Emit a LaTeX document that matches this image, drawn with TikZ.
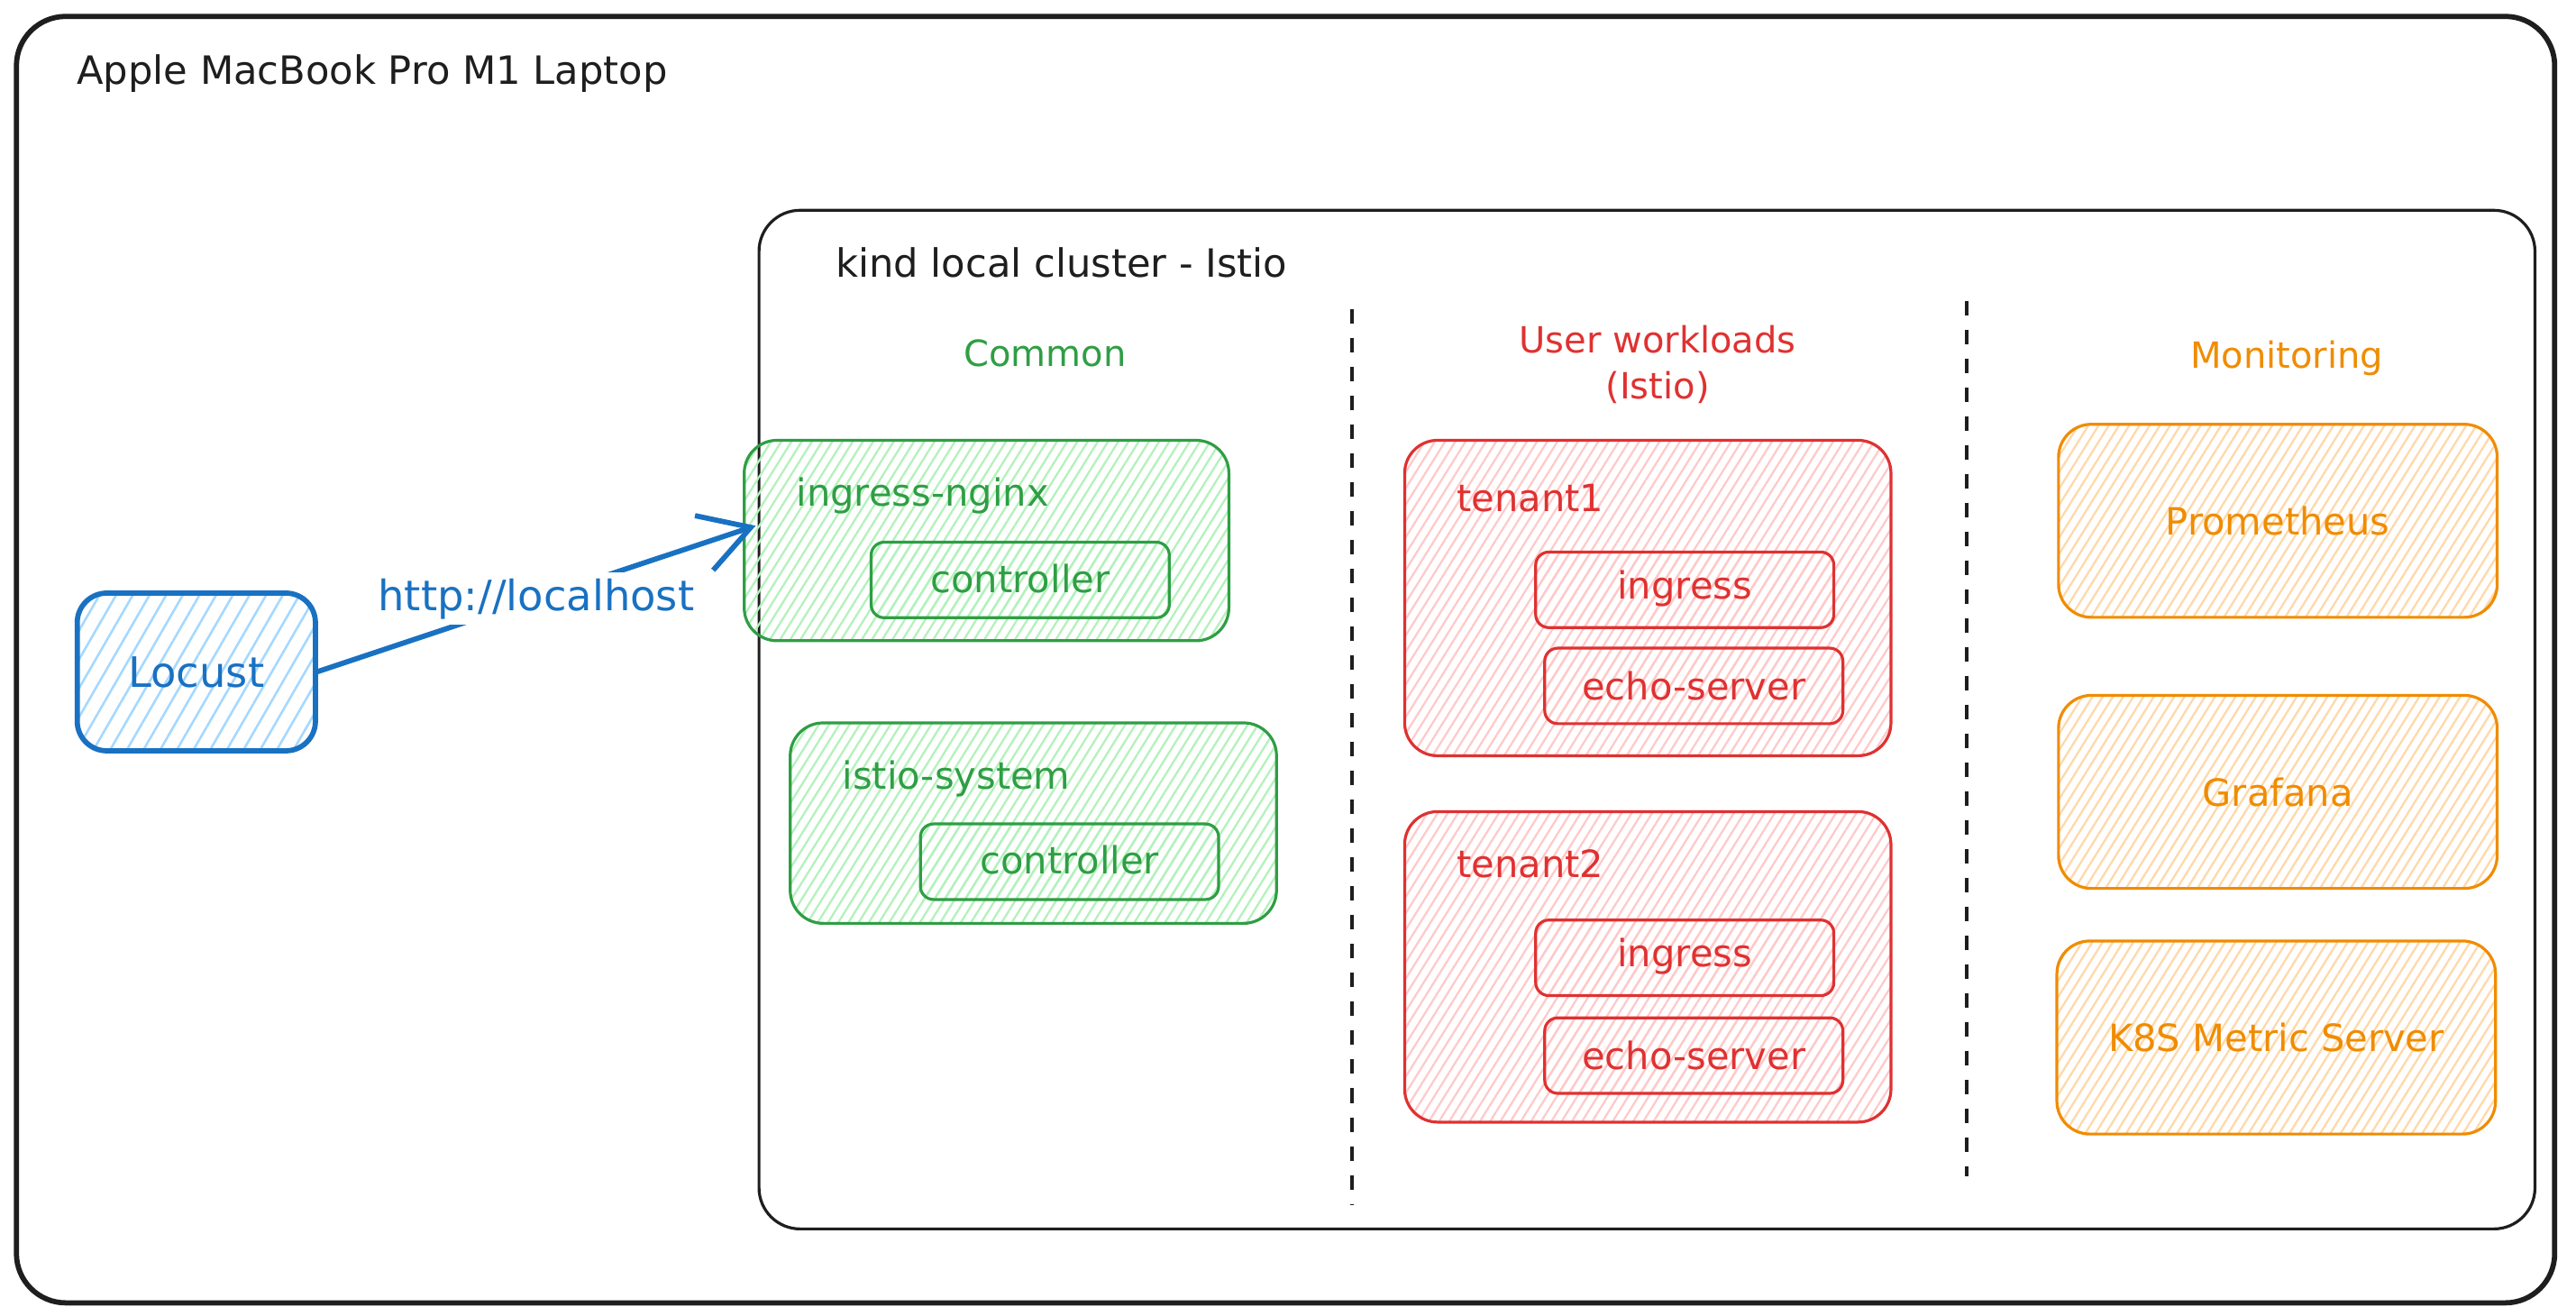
\documentclass[tikz,border=0pt]{standalone}
\usepackage{fontspec}
\setmainfont{DejaVu Sans}
\usetikzlibrary{patterns.meta,arrows.meta}

\definecolor{inkblack}{HTML}{1E1E1E}
\definecolor{greenline}{HTML}{2F9E44}
\definecolor{greenfill}{HTML}{B2F2BB}
\definecolor{redline}{HTML}{E03131}
\definecolor{redfill}{HTML}{FFC9C9}
\definecolor{orangeline}{HTML}{F08C00}
\definecolor{orangefill}{HTML}{FFD8A8}
\definecolor{blueline}{HTML}{1971C2}
\definecolor{bluefill}{HTML}{A5D8FF}

\begin{document}
\begin{tikzpicture}
[line width=1pt, draw=inkblack,
box/.style={rectangle, draw, inner sep=0pt, rounded corners=4mm},
inner/.style={rectangle, draw, inner sep=0pt, rounded corners=1.6mm, minimum width=3.63cm, minimum height=0.92cm},
hatch/.style={pattern={Lines[angle=58,distance=3pt,line width=0.7pt]}},
greenbox/.style={box, draw=greenline, hatch, pattern color=greenfill},
greeninner/.style={inner, draw=greenline, hatch, pattern color=greenfill},
redbox/.style={box, draw=redline, hatch, pattern color=redfill},
redinner/.style={inner, draw=redline, hatch, pattern color=redfill},
orangebox/.style={box, draw=orangeline, hatch, pattern color=orangefill, minimum width=5.34cm, minimum height=2.35cm},
bigtext/.style={text=inkblack, font=\fontsize{13.5}{16}\selectfont},
headtext/.style={font=\fontsize{12.5}{16}\selectfont, align=center},
boxtext/.style={font=\fontsize{13}{16}\selectfont}]

\fill[white] (0,0) rectangle (31.36,16.02);
\useasboundingbox (0,0) rectangle (31.36,16.02);

% outer frames
\node[box, line width=1.8pt, rounded corners=6mm, minimum width=30.9cm, minimum height=15.66cm] (laptop) at (15.65,7.99) {};
\node[box, rounded corners=5mm, minimum width=21.62cm, minimum height=12.4cm] (cluster) at (20.05,7.26) {};
\node[bigtext, anchor=west] (laptoptitle) at (0.8,15.12) {Apple MacBook Pro M1 Laptop};
\node[bigtext, anchor=west] (clustertitle) at (10.04,12.82) {kind local cluster - Istio};

% column separators
\coordinate (sepatop) at (16.46,12.26);
\coordinate (sepabot) at (16.46,1.36);
\coordinate (sepbtop) at (23.94,12.36);
\coordinate (sepbbot) at (23.94,1.70);
\draw[line width=1.2pt, dash pattern=on 5pt off 5pt] (sepatop) -- (sepabot);
\draw[line width=1.2pt, dash pattern=on 5pt off 5pt] (sepbtop) -- (sepbbot);

\node[headtext, text=greenline] (common) at (12.72,11.72) {Common};
\node[headtext, text=redline] (userwl) at (20.18,11.58) {User workloads\\(Istio)};
\node[headtext, text=orangeline] (monitoring) at (27.84,11.66) {Monitoring};

% common
\node[greenbox, minimum width=5.9cm, minimum height=2.44cm] (ingressnginx) at (12.01,9.44) {};
\node[greeninner] (nginxctrl) at (12.42,8.96) {};
\node[boxtext, text=greenline, anchor=west] (nginxlabel) at (9.56,9.98) {ingress-nginx};
\node[boxtext, text=greenline] (nginxctrltext) at (12.42,8.98) {controller};

\node[greenbox, minimum width=5.92cm, minimum height=2.44cm] (istiosys) at (12.58,6.00) {};
\node[greeninner] (istioctrl) at (13.02,5.53) {};
\node[boxtext, text=greenline, anchor=west] (istiolabel) at (10.12,6.54) {istio-system};
\node[boxtext, text=greenline] (istioctrltext) at (13.02,5.55) {controller};

% user workloads
\node[redbox, minimum width=5.92cm, minimum height=3.84cm] (tenantone) at (20.06,8.74) {};
\node[redinner] (ingressone) at (20.51,8.84) {};
\node[redinner] (echoone) at (20.62,7.67) {};
\node[boxtext, text=redline, anchor=west] (tenantonelabel) at (17.6,9.96) {tenant1};
\node[boxtext, text=redline] (ingressonetext) at (20.51,8.86) {ingress};
\node[boxtext, text=redline] (echoonetext) at (20.62,7.67) {echo-server};

\node[redbox, minimum width=5.92cm, minimum height=3.78cm] (tenanttwo) at (20.06,4.25) {};
\node[redinner] (ingresstwo) at (20.51,4.36) {};
\node[redinner] (echotwo) at (20.62,3.17) {};
\node[boxtext, text=redline, anchor=west] (tenanttwolabel) at (17.6,5.50) {tenant2};
\node[boxtext, text=redline] (ingresstwotext) at (20.51,4.38) {ingress};
\node[boxtext, text=redline] (echotwotext) at (20.62,3.17) {echo-server};

% monitoring
\node[orangebox, boxtext, text=orangeline] (prometheus) at (27.73,9.68) {Prometheus};
\node[orangebox, boxtext, text=orangeline] (grafana) at (27.73,6.38) {Grafana};
\node[orangebox, boxtext, text=orangeline] (metrics) at (27.71,3.39) {K8S Metric Server};

% load generator
\node[box, draw=blueline, line width=1.8pt, rounded corners=3.6mm, pattern={Lines[angle=60,distance=5pt,line width=0.8pt]}, pattern color=bluefill, minimum width=2.9cm, minimum height=1.92cm, text=blueline, font=\fontsize{14.5}{17}\selectfont] (locust) at (2.39,7.84) {Locust};
\coordinate (nginxin) at (9.2,9.62);
\draw[draw=blueline, line width=1.8pt, -{Straight Barb[length=6mm,width=7mm]}] (locust.east) -- node[fill=white, text=blueline, font=\fontsize{14.5}{17}\selectfont, inner sep=2pt] (httplabel) {http://localhost} (nginxin);
\end{tikzpicture}
\end{document}
